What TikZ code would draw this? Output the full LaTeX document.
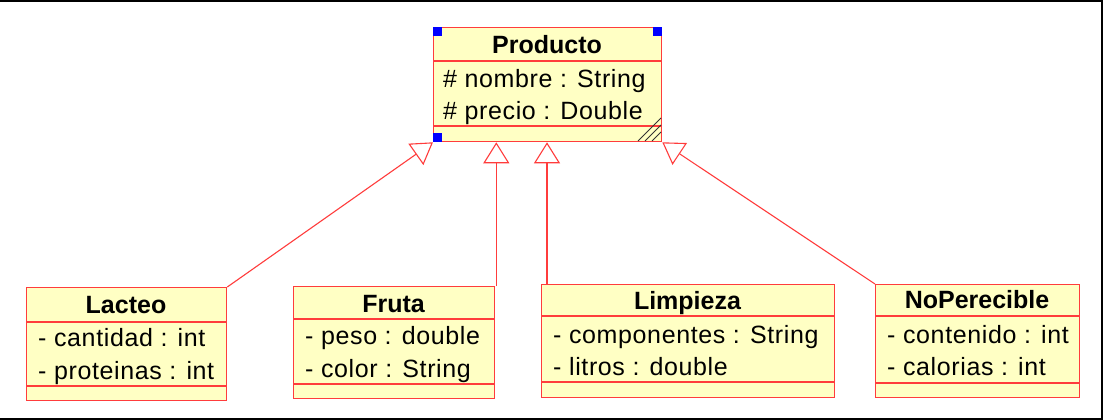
\documentclass[tikz,border=0pt]{standalone}
\usepackage{fontspec}
\setmainfont{Liberation Sans}[LetterSpace=2.5, BoldFeatures={LetterSpace=0}]
\usetikzlibrary{arrows.meta}

\definecolor{umlred}{RGB}{255,60,60}
\definecolor{umlfill}{RGB}{255,255,196}
\definecolor{umlblue}{RGB}{0,0,255}

\tikzset{
  cls/.style={draw=umlred, fill=umlfill, line width=1.3pt, inner sep=0pt,
              anchor=north west},
  divider/.style={draw=umlred, line width=1.2pt},
  title/.style={font=\bfseries\fontsize{25}{30}\selectfont, anchor=base, inner sep=0pt},
  attr/.style={font=\fontsize{25}{30}\selectfont, anchor=base west, inner sep=0pt},
  gen/.style={draw=umlred, line width=1.1pt,
              -{Triangle[open, length=21pt, width=26pt, line width=1.1pt]}},
  handle/.style={fill=umlblue, draw=none, minimum size=9pt, inner sep=0pt},
  hatch/.style={draw=black!80, line width=0.8pt},
  frame/.style={draw=black, line width=2pt},
}

\begin{document}
\begin{tikzpicture}[x=1pt, y=-1pt]
  \useasboundingbox (0,0) rectangle (1103,420);
  \fill[white] (0,0) rectangle (1103,420);

  % outer frame (top, right, bottom)
  \draw[frame] (0,1) -- (1102,1) -- (1102,419) -- (0,419);

  % ---- superclass Producto ----
  \node[cls, minimum width=228pt, minimum height=114pt] (producto) at (433,27) {};
  \draw[divider] ([yshift=-34pt]producto.north west) -- ([yshift=-34pt]producto.north east);
  \draw[divider] ([yshift=-99pt]producto.north west) -- ([yshift=-99pt]producto.north east);
  \node[title] (producto-name) at (547,54) {Producto};
  \node[attr] (producto-a1) at (443,88) {\# nombre : String};
  \node[attr] (producto-a2) at (443,119) {\# precio : Double};
  % selection handles
  \node[handle, anchor=north west] (h1) at (producto.north west) {};
  \node[handle, anchor=north east] (h2) at (producto.north east) {};
  \node[handle, anchor=south west] (h3) at (producto.south west) {};
  % resize grip
  \draw[hatch] (638,141) -- (661,118);
  \draw[hatch] (645,141) -- (661,125);
  \draw[hatch] (652,141) -- (661,132);

  % ---- Lacteo ----
  \node[cls, minimum width=200pt, minimum height=113pt] (lacteo) at (26,287) {};
  \draw[divider] ([yshift=-35pt]lacteo.north west) -- ([yshift=-35pt]lacteo.north east);
  \draw[divider] ([yshift=-99pt]lacteo.north west) -- ([yshift=-99pt]lacteo.north east);
  \node[title] (lacteo-name) at (126,313) {Lacteo};
  \node[attr] (lacteo-a1) at (38,346) {- cantidad : int};
  \node[attr] (lacteo-a2) at (38,379) {- proteinas : int};

  % ---- Fruta ----
  \node[cls, minimum width=201pt, minimum height=112pt] (fruta) at (293,286) {};
  \draw[divider] ([yshift=-33pt]fruta.north west) -- ([yshift=-33pt]fruta.north east);
  \draw[divider] ([yshift=-98pt]fruta.north west) -- ([yshift=-98pt]fruta.north east);
  \node[title] (fruta-name) at (393.5,312) {Fruta};
  \node[attr] (fruta-a1) at (305,344) {- peso : double};
  \node[attr] (fruta-a2) at (305,377) {- color : String};

  % ---- Limpieza ----
  \node[cls, minimum width=293pt, minimum height=113pt] (limpieza) at (541,284) {};
  \draw[divider] ([yshift=-32pt]limpieza.north west) -- ([yshift=-32pt]limpieza.north east);
  \draw[divider] ([yshift=-98pt]limpieza.north west) -- ([yshift=-98pt]limpieza.north east);
  \node[title] (limpieza-name) at (687.5,309) {Limpieza};
  \node[attr] (limpieza-a1) at (553,343) {- componentes : String};
  \node[attr] (limpieza-a2) at (553,375) {- litros : double};

  % ---- NoPerecible ----
  \node[cls, minimum width=204pt, minimum height=113pt] (noperecible) at (875,284) {};
  \draw[divider] ([yshift=-32pt]noperecible.north west) -- ([yshift=-32pt]noperecible.north east);
  \draw[divider] ([yshift=-99pt]noperecible.north west) -- ([yshift=-99pt]noperecible.north east);
  \node[title] (noperecible-name) at (977,308) {NoPerecible};
  \node[attr] (noperecible-a1) at (887,343) {- contenido : int};
  \node[attr] (noperecible-a2) at (887,375) {- calorias : int};

  % ---- generalisation links ----
  \coordinate (fruta-link) at ([xshift=1pt]fruta.north east);
  \coordinate (limpieza-link) at ([xshift=6pt]limpieza.north west);
  \draw[gen] (lacteo.north east) -- (producto.south west);
  \draw[gen] (fruta-link) -- (fruta-link |- producto.south);
  \draw[gen] (limpieza-link) -- (limpieza-link |- producto.south);
  \draw[gen] (noperecible.north west) -- (producto.south east);
\end{tikzpicture}
\end{document}
